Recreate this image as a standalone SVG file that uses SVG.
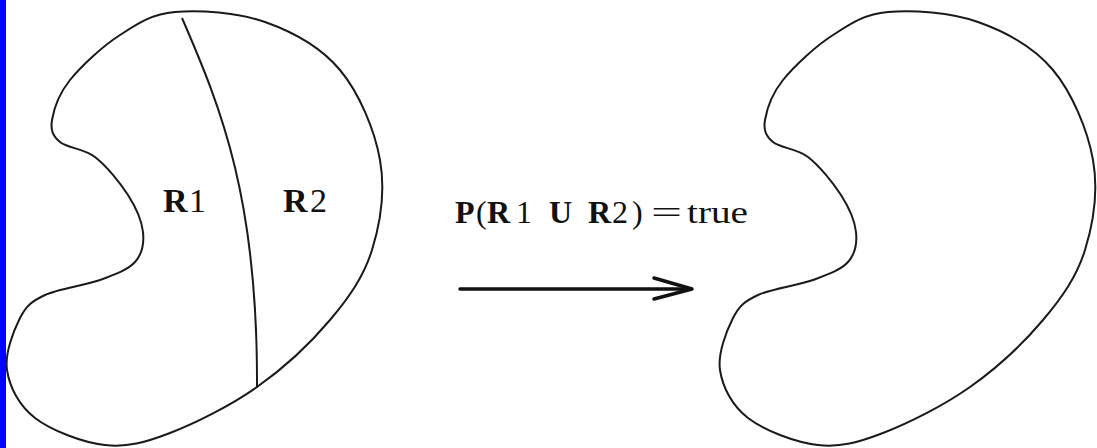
<svg xmlns="http://www.w3.org/2000/svg" xmlns:xlink="http://www.w3.org/1999/xlink" width="1097" height="448" viewBox="0 0 1097 448">
  <style>
    .outline { fill: none; stroke: #1a1a1a; stroke-width: 2; stroke-linejoin: round; }
    .label { font-family: "Liberation Serif", "Times New Roman", serif; fill: #111; }
    .b { font-weight: bold; }
    .arrow { fill: none; stroke: #111; stroke-width: 3.5; stroke-linecap: round; stroke-linejoin: round; }
  </style>
  <defs>
    <path id="blob" d="M175,12 C199.2,9.8 237.5,12.3 265,22 C292.5,31.7 320.8,47 340,70 C359.2,93 374.7,130 380,160 C385.3,190 380.3,223.3 372,250 C363.7,276.7 349.2,297.2 330,320 C310.8,342.8 283.7,368.2 257,387 C230.3,405.8 195.3,423.3 170,433 C144.7,442.7 127.5,447.5 105,445 C82.5,442.5 51.3,430.5 35,418 C18.7,405.5 9.5,386.7 7,370 C4.5,353.3 13.7,330.5 20,318 C26.3,305.5 31.7,301.3 45,295 C58.3,288.7 85,285.5 100,280 C115,274.5 127.8,270 135,262 C142.2,254 144.2,243.2 143,232 C141.8,220.8 136,207.5 128,195 C120,182.5 106.3,165.8 95,157 C83.7,148.2 67.2,148.2 60,142 C52.8,135.8 50.3,130.3 52,120 C53.7,109.7 58.7,94.2 70,80 C81.3,65.8 102.5,46.3 120,35 C137.5,23.7 150.8,14.2 175,12 Z"/>
  </defs>
  <rect x="0" y="0" width="1097" height="448" fill="#ffffff"/>
  <rect x="0" y="0" width="6" height="448" fill="#0000ff"/>

  <g id="region-left">
    <use xlink:href="#blob" href="#blob" class="outline"/>
    <path class="outline" d="M182,18 C222,110 258,200 257,388"/>
    <text class="label" font-size="34" y="212"><tspan class="b" x="163">R</tspan><tspan x="189">1</tspan></text>
    <text class="label" font-size="34" y="212"><tspan class="b" x="283">R</tspan><tspan x="310">2</tspan></text>
  </g>

  <g id="region-right">
    <use xlink:href="#blob" href="#blob" class="outline" transform="translate(713,0)"/>
  </g>

  <g id="predicate">
    <text class="label" font-size="32" y="223"><tspan class="b" x="455">P</tspan><tspan x="476">(</tspan><tspan class="b" x="487">R</tspan><tspan x="516">1</tspan><tspan class="b" x="549">U</tspan><tspan class="b" x="588">R</tspan><tspan x="612">2</tspan><tspan x="632">)</tspan></text>
    <text class="label" font-size="32" x="651" y="223" textLength="31" lengthAdjust="spacingAndGlyphs">=</text>
    <text class="label" font-size="32" x="687" y="223" textLength="61" lengthAdjust="spacingAndGlyphs">true</text>
  </g>

  <g id="connectors">
    <line class="arrow" x1="460" y1="289" x2="691" y2="289"/>
    <polyline class="arrow" points="654,278 692,289 654,299"/>
  </g>
</svg>
